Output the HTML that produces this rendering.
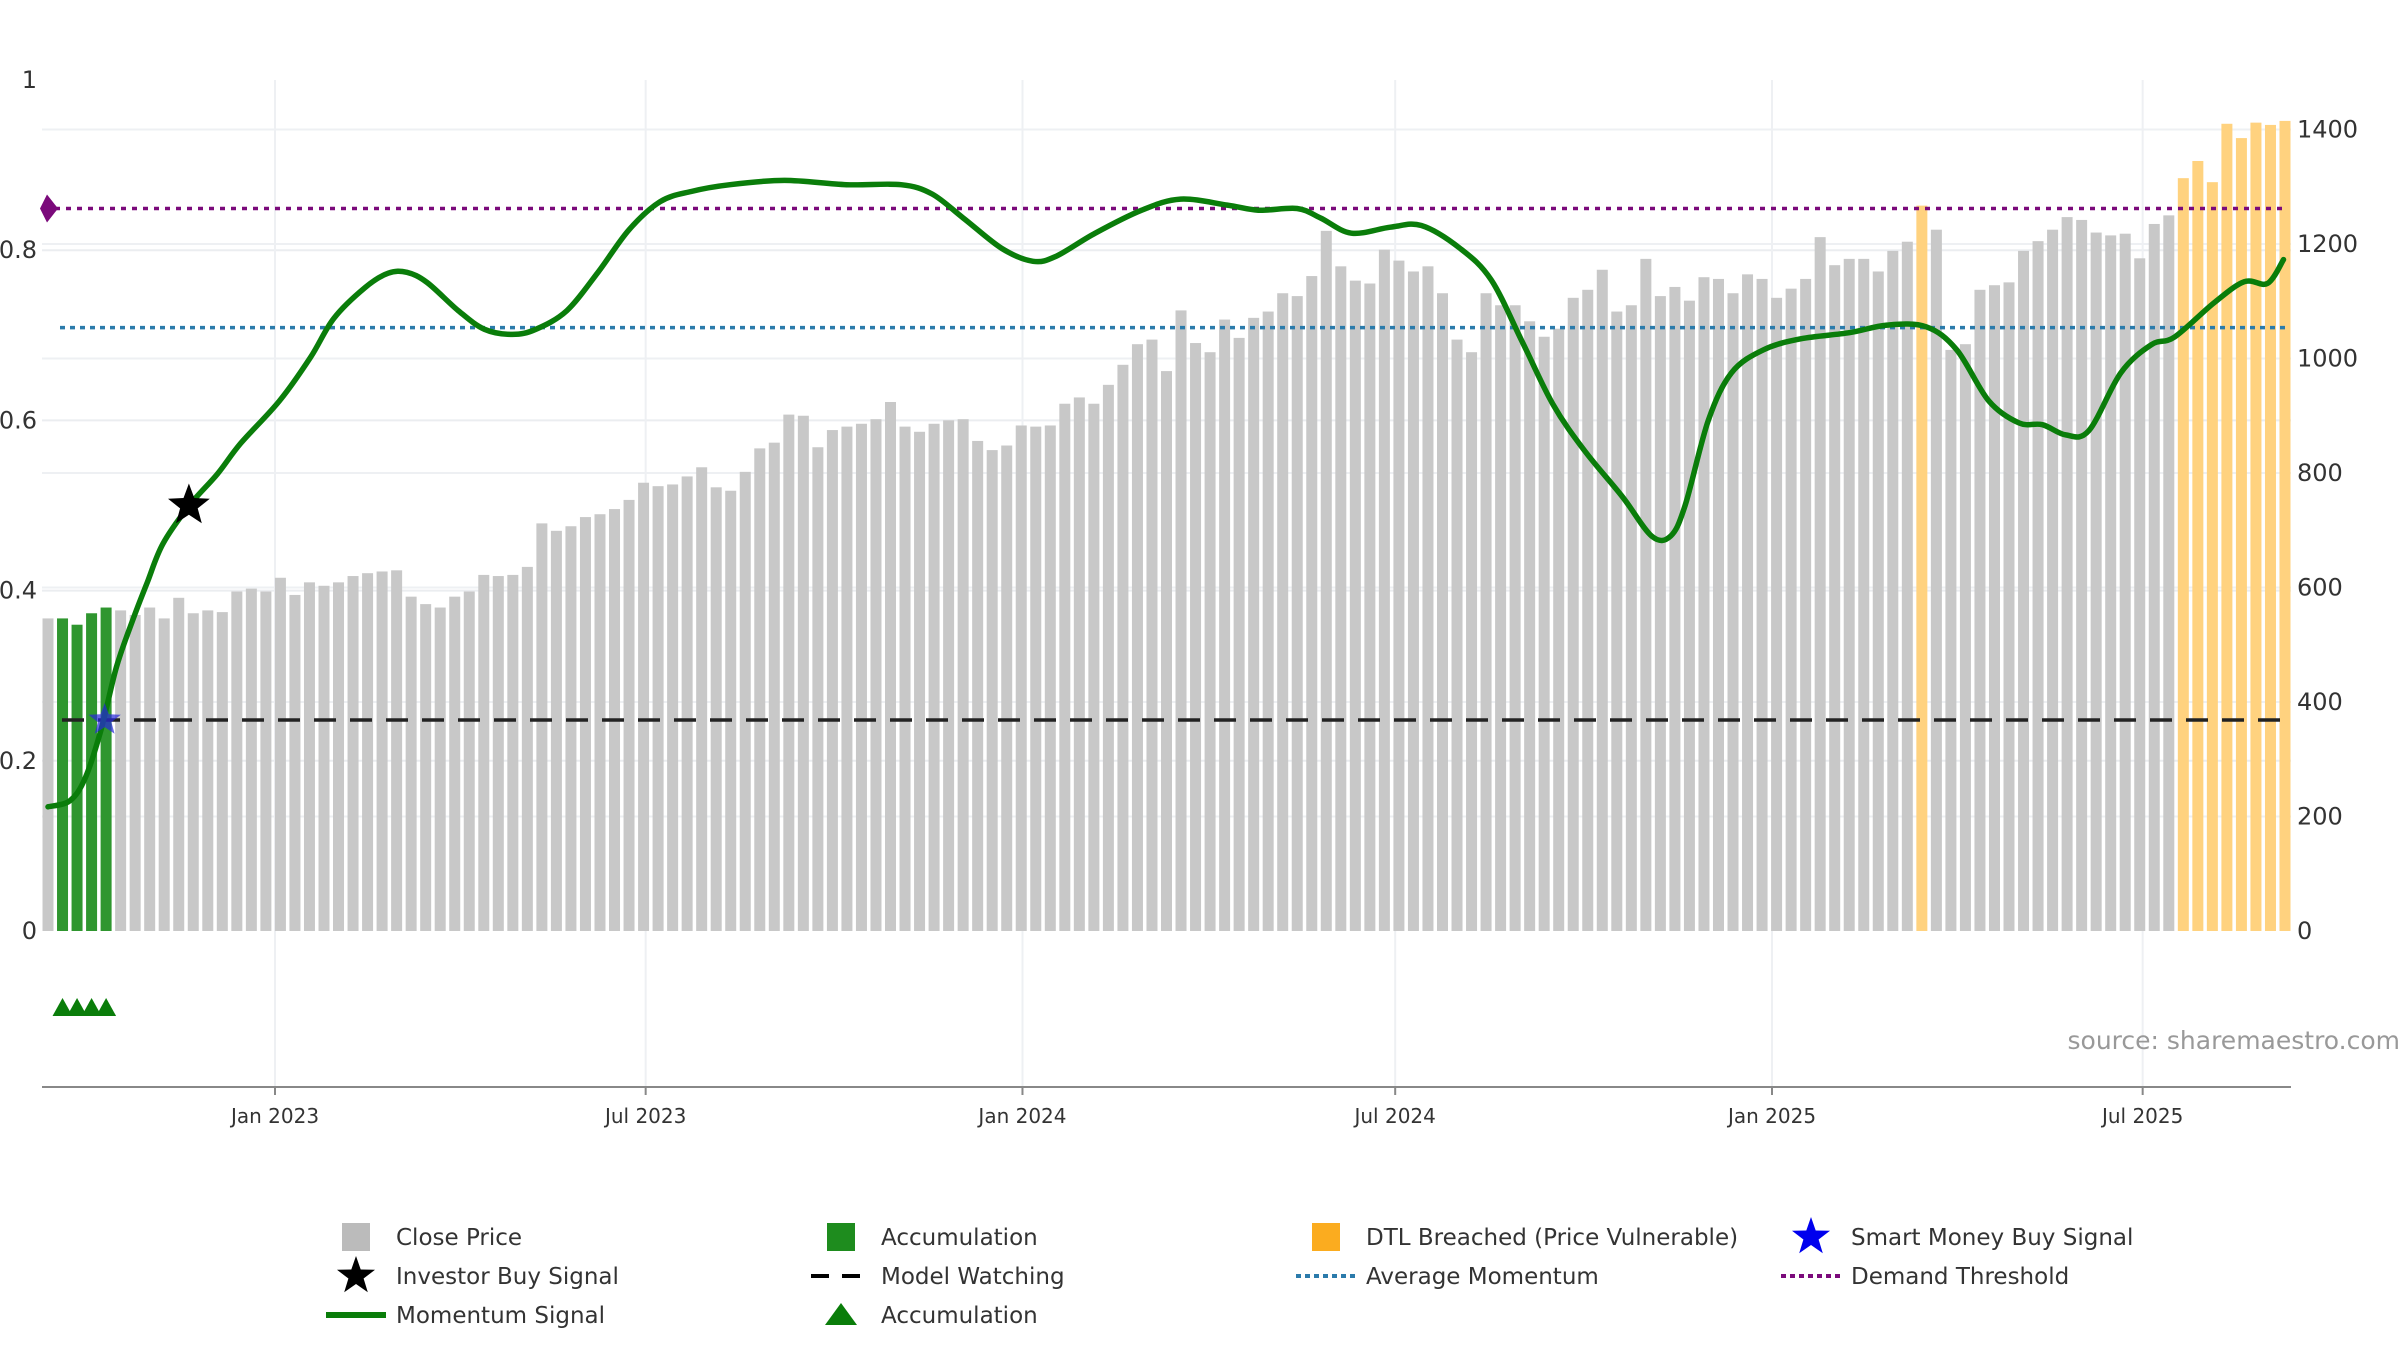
<!DOCTYPE html>
<html><head><meta charset="utf-8"><style>
html,body{margin:0;padding:0;background:#fff;width:2400px;height:1350px;overflow:hidden}
svg{display:block;font-family:"DejaVu Sans","Liberation Sans",sans-serif}
</style></head><body>
<svg id="chart" width="2400" height="1350" viewBox="0 0 2400 1350" xmlns="http://www.w3.org/2000/svg">
<g id="grid"></g>
<g id="bars"></g>
<g id="lines"></g>
<g id="axes"></g>
<text x="2400" y="1049" text-anchor="end" font-size="25" fill="#999">source: sharemaestro.com</text>
<g id="legend"></g>
</svg>
<script>
const prices = [546,546,535,555,565,560,552,565,546,582,555,560,557,593,598,593,617,587,609,603,609,620,625,628,630,584,571,565,584,593,622,620,622,636,712,699,707,723,728,737,753,783,777,780,794,810,775,769,802,843,853,902,900,845,875,881,886,894,924,881,872,886,892,894,856,840,848,883,881,883,921,932,921,954,989,1025,1033,978,1084,1027,1011,1068,1036,1071,1082,1114,1109,1144,1223,1161,1136,1131,1190,1171,1152,1161,1114,1033,1011,1114,1093,1093,1065,1038,1052,1106,1120,1155,1082,1093,1174,1109,1125,1101,1142,1139,1114,1147,1139,1106,1122,1139,1212,1163,1174,1174,1152,1188,1204,1267,1225,1015,1025,1120,1128,1133,1188,1205,1225,1247,1242,1220,1215,1218,1175,1235,1250,1315,1345,1308,1410,1385,1412,1408,1415];
const accumIdx = [1,2,3,4];
const dtlIdx = [129,147,148,149,150,151,152,153,154];
const momentumIdx = [0,1.5,2.57,3.64,4.71,5.78,6.84,7.91,9.73,11.66,13.26,15.94,18.07,19.68,21.82,23.42,24.71,26.1,28.24,30.05,31.98,33.58,35.72,37.86,40,42.14,44.28,46.95,50.7,54.97,58.72,60.86,63,65.67,67.81,69.41,72.09,75.29,77.97,81.18,83.32,85.99,87.59,89.73,92.41,94.55,97.22,99.36,101.5,103.6,105.8,108.4,110.4,111.7,112.7,114.3,115.9,118.1,120.7,124,126.6,129.3,131.4,133.6,135.7,137.3,138.9,140.5,142.7,144.8,146.4,149.1,151.2,152.8,153.9];
const momentumVal = [0.146,0.153,0.18,0.236,0.31,0.363,0.41,0.455,0.5,0.537,0.573,0.623,0.674,0.72,0.756,0.773,0.774,0.762,0.729,0.707,0.701,0.707,0.729,0.774,0.824,0.857,0.869,0.877,0.882,0.877,0.877,0.866,0.838,0.802,0.787,0.793,0.82,0.847,0.86,0.853,0.847,0.849,0.838,0.82,0.827,0.829,0.802,0.765,0.692,0.619,0.564,0.51,0.464,0.464,0.5,0.6,0.656,0.683,0.696,0.703,0.712,0.71,0.683,0.623,0.597,0.595,0.583,0.588,0.656,0.689,0.698,0.738,0.763,0.761,0.789];
const demandThreshold = 0.849;
const avgMomentum = 0.709;
const modelWatching = 0.248;
const investorBuy = {idx:9.7, val:0.5};
const smartMoney = {idx:3.9, val:0.248};
const leftTicks = [0,0.2,0.4,0.6,0.8,1];
const leftTickLabels = ["0","0.2","0.4","0.6","0.8","1"];
const rightTicks = [0,200,400,600,800,1000,1200,1400];
const dateTicks = ["2023-01-01","2023-07-01","2024-01-01","2024-07-01","2025-01-01","2025-07-01"];
const dateTickLabels = ["Jan 2023","Jul 2023","Jan 2024","Jul 2024","Jan 2025","Jul 2025"];

const NS="http://www.w3.org/2000/svg";
function mk(tag,attrs,parent,text){const e=document.createElementNS(NS,tag);for(const k in attrs)e.setAttribute(k,attrs[k]);if(text!==undefined)e.textContent=text;parent.appendChild(e);return e;}
const X0=48, X1=2285, PLOT_L=42, PLOT_R=2291, BASE=931;
const step=(X1-X0)/(prices.length-1);
function xI(i){return X0+i*step;}
function yL(v){return BASE-v*851;}
function yR(p){return BASE-p*0.5725;}
const d0=Date.UTC(2023,0,1), pxDay=(1772-275)/731;
function xD(s){const p=s.split('-').map(Number);return 275+(Date.UTC(p[0],p[1]-1,p[2])-d0)/86400000*pxDay;}

const grid=document.getElementById('grid');
leftTicks.slice(1,5).forEach(v=>{const l=mk('line',{x1:PLOT_L,x2:PLOT_R,y1:yL(v),y2:yL(v),stroke:'#ebedf0','stroke-width':2},grid);

});
rightTicks.slice(1).forEach(v=>{const l=mk('line',{x1:PLOT_L,x2:PLOT_R,y1:yR(v),y2:yR(v),stroke:'#eef0f3','stroke-width':2},grid);

});
dateTicks.forEach(d=>{const l=mk('line',{x1:xD(d),x2:xD(d),y1:80,y2:1087,stroke:'#eef0f3','stroke-width':2},grid);

});

const bars=document.getElementById('bars');
const bw=11;
prices.forEach((p,i)=>{let c='#c8c8c8';if(accumIdx.includes(i))c='#2f962f';if(dtlIdx.includes(i))c='#ffd27f';
const r=mk('rect',{x:xI(i)-bw/2,y:yR(p),width:bw,height:BASE-yR(p),fill:c},bars);

});

const lines=document.getElementById('lines');
function hline(v,color,dash,name,x1,x2){const l=mk('line',{x1:x1,x2:x2,y1:yL(v),y2:yL(v),stroke:color,'stroke-width':3.5,'stroke-dasharray':dash},lines);

}
hline(modelWatching,'#222','22 14','model-watching-line',62,2282);
hline(avgMomentum,'#2b7bab','5 5','average-momentum-line',60,2285);
hline(demandThreshold,'#7b0a7b','5 6','demand-threshold-line',55,2285);
const dm=mk('polygon',{points:`${X0-8},${yL(demandThreshold)} ${X0-1},${yL(demandThreshold)-14} ${X0+10},${yL(demandThreshold)} ${X0-1},${yL(demandThreshold)+14} ${X0-8},${yL(demandThreshold)}`,fill:'#7b0a7b'},lines);


const n=Math.min(momentumIdx.length,momentumVal.length);
const P=[];for(let k=0;k<n;k++)P.push([xI(momentumIdx[k]),yL(momentumVal[k])]);
let d='M'+P[0][0].toFixed(1)+','+P[0][1].toFixed(1);
for(let k=0;k<P.length-1;k++){const p0=P[Math.max(0,k-1)],p1=P[k],p2=P[k+1],p3=P[Math.min(P.length-1,k+2)];
const c1x=p1[0]+(p2[0]-p0[0])/6,c1y=p1[1]+(p2[1]-p0[1])/6,c2x=p2[0]-(p3[0]-p1[0])/6,c2y=p2[1]-(p3[1]-p1[1])/6;
d+=` C${c1x.toFixed(1)},${c1y.toFixed(1)} ${c2x.toFixed(1)},${c2y.toFixed(1)} ${p2[0].toFixed(1)},${p2[1].toFixed(1)}`;}
const ml=mk('path',{d:d,fill:'none',stroke:'#0a7d0a','stroke-width':5.5,'stroke-linejoin':'round','stroke-linecap':'round'},lines);


function star(cx,cy,R,fill,name){let s='';for(let k=0;k<10;k++){const r=k%2?R*0.42:R;const a=-Math.PI/2+k*Math.PI/5;s+=(cx+r*Math.cos(a)).toFixed(1)+','+(cy+r*Math.sin(a)).toFixed(1)+' ';}
const p=mk('polygon',{points:s,fill:fill},lines);

}
star(xI(smartMoney.idx),yL(smartMoney.val),17,'rgba(40,40,220,0.7)','smart-money-buy-marker');
star(xI(investorBuy.idx),yL(investorBuy.val),22,'#000','investor-buy-marker');
accumIdx.forEach(i=>{const cx=xI(i),t=mk('polygon',{points:`${cx-10},1016 ${cx},998 ${cx+10},1016`,fill:'#0a7d0a'},lines);

});

const axes=document.getElementById('axes');
const al=mk('line',{x1:PLOT_L,x2:PLOT_R,y1:1087,y2:1087,stroke:'#888','stroke-width':2},axes);


leftTicks.forEach((v,k)=>{const t=mk('text',{x:37,y:yL(v)+8,'text-anchor':'end','font-size':24,fill:'#333'},axes,leftTickLabels[k]);

});
rightTicks.forEach(v=>{const t=mk('text',{x:2297,y:yR(v)+8,'font-size':24,fill:'#333'},axes,String(v));

});
dateTicks.forEach((dd,k)=>{const tk=mk('line',{x1:xD(dd),x2:xD(dd),y1:1087,y2:1095,stroke:'#888','stroke-width':2},axes);


const t=mk('text',{x:xD(dd),y:1123,'text-anchor':'middle','font-size':20,fill:'#333'},axes,dateTickLabels[k]);

});

const lg=document.getElementById('legend');
const items=[
 ['Close Price','sq','#bbb',356,1237],['Accumulation','sq','#1e8c1e',841,1237],['DTL Breached (Price Vulnerable)','sq','#fbac1f',1326,1237],['Smart Money Buy Signal','star','#0000ee',1811,1237],
 ['Investor Buy Signal','star','#000',356,1276],['Model Watching','dash','#000',841,1276],['Average Momentum','dot','#2b7bab',1326,1276],['Demand Threshold','dot','#7b0a7b',1811,1276],
 ['Momentum Signal','line','#0a7d0a',356,1315],['Accumulation','tri','#0a7d0a',841,1315]];
items.forEach(it=>{const [label,type,c,x,y]=it;const g=mk('g',{},lg);


if(type==='sq')mk('rect',{x:x-14,y:y-14,width:28,height:28,fill:c},g);
if(type==='star'){let s='';for(let k=0;k<10;k++){const r=k%2?8:20;const a=-Math.PI/2+k*Math.PI/5;s+=(x+r*Math.cos(a)).toFixed(1)+','+(y+r*Math.sin(a)).toFixed(1)+' ';}mk('polygon',{points:s,fill:c},g);}
if(type==='dash')mk('line',{x1:x-30,x2:x+30,y1:y,y2:y,stroke:c,'stroke-width':4,'stroke-dasharray':'18 13'},g);
if(type==='dot')mk('line',{x1:x-30,x2:x+30,y1:y,y2:y,stroke:c,'stroke-width':4,'stroke-dasharray':'5 4'},g);
if(type==='line')mk('line',{x1:x-30,x2:x+30,y1:y,y2:y,stroke:c,'stroke-width':6},g);
if(type==='tri')mk('polygon',{points:`${x-16},${y+10} ${x},${y-12} ${x+16},${y+10}`,fill:c},g);
mk('text',{x:x+40,y:y+8,'font-size':23,fill:'#333'},g,label);});
</script>
</body></html>
